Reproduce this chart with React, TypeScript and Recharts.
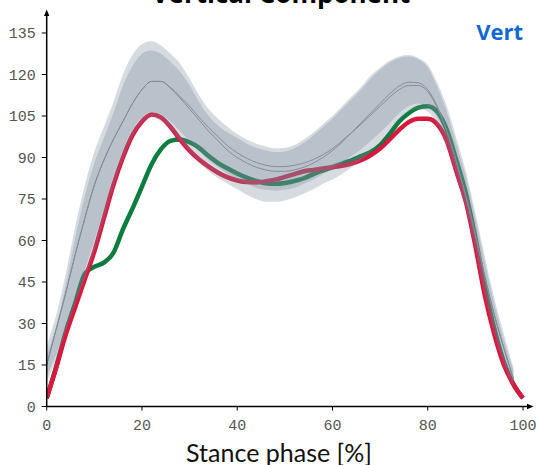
import React from "react";
import {
  ComposedChart,
  Area,
  Line,
  XAxis,
  YAxis,
} from "recharts";

// stance phase [%], sampled every 2 %
const stance = [
  0, 2, 4, 6, 8, 10, 12, 14, 16, 18, 20, 22, 24, 26, 28, 30, 32, 34, 36, 38, 40,
  42, 44, 46, 48, 50, 52, 54, 56, 58, 60, 62, 64, 66, 68, 70, 72, 74, 76, 78, 80,
  82, 84, 86, 88, 90, 92, 94, 96, 98, 100,
];

const redForce = [
  3, 14, 26, 36, 46, 56, 68, 80, 90, 98, 103, 105.5, 104.5, 101, 96.5, 92.5,
  89.3, 86.7, 84.5, 82.8, 81.7, 81.1, 81, 81.4, 82, 83, 84, 85, 85.5, 86, 86.5,
  87, 87.8, 89, 90.8, 93.2, 96.5, 100, 102.8, 104, 104, 102, 96, 85, 74, 58, 40,
  26, 15, 8, 3,
];

const greenForce = [
  3, 14.5, 27, 37.5, 48, 50.5, 52, 55.5, 64, 71.5, 79.5, 87.5, 93, 96, 96.5,
  95.5, 93.5, 90.5, 88, 86, 84.2, 82.7, 81.5, 80.7, 80.5, 80.8, 81.5, 82.5, 84,
  85.3, 86.5, 87.8, 89, 90.5, 92, 94.5, 98.5, 103, 106, 108, 108.5, 106.5, 100,
  89, 77, 61, 43, 28, 16, 8, 3,
];

// reference corridor, 0..98 %
const outerHi = [
  22, 33, 48, 65, 80, 92, 101, 110, 120, 127, 131, 132, 130.5, 127.5, 124,
  118.5, 112.5, 107.5, 104, 101, 98.5, 96.5, 95, 94, 93.3, 93.5, 94.5, 96.5, 99,
  102, 105, 108.5, 112, 115.5, 119.5, 122.5, 125, 126.5, 127, 126, 123.5, 117,
  108.5, 97, 85, 70, 54, 39, 26, 14,
];
const innerHi = [
  19, 29, 44, 61, 76, 88, 97, 106, 116, 123, 127.5, 128.7, 127.5, 124.5, 121,
  116, 110, 105, 101.5, 99, 97, 95, 93.5, 92.5, 92, 92.2, 93.3, 95.3, 98, 101,
  104, 107.5, 111, 114.5, 118.5, 121.7, 124.3, 126, 126.5, 125.5, 122.5, 115.5,
  106.5, 95, 83, 68, 52, 37, 24, 13,
];
const innerLo = [
  11, 19, 29.5, 40, 49.5, 60, 71, 83, 92.5, 100, 104.5, 106.5, 105.5, 103, 99.5,
  96, 92.5, 89, 86.5, 84, 82, 80.5, 79, 78.3, 78, 78.3, 79, 80.5, 82, 84, 86, 88,
  90.5, 93, 96, 99, 102.5, 106, 108.5, 109.5, 108.5, 104.5, 97, 86, 74, 59, 43,
  29, 17.5, 9,
];
const outerLo = [
  9, 17, 27, 37, 46, 56, 67, 79, 89, 97, 102.5, 104.5, 103, 100, 96, 92, 88.5,
  85, 82.5, 80.5, 78.5, 76.5, 75, 74, 74, 74.5, 75.5, 77, 78.5, 80.5, 82, 84,
  86.5, 89, 92, 95.5, 99.5, 103.5, 106.5, 107.5, 106.5, 102, 94, 83, 71, 56, 40,
  26, 15, 7,
];
const meanA = [
  15, 28, 41, 55, 68, 80, 89, 96.5, 103, 109.5, 114.5, 117.5, 117.5, 115, 111.5,
  107.5, 103.5, 99.5, 96, 92.5, 90, 88, 86.5, 85.5, 85, 85, 85.5, 86.5, 88, 90,
  92.5, 95.5, 99, 102.5, 106, 109.5, 113, 115.8, 117.2, 117, 114.5, 108.5, 99.5,
  88.5, 76, 62, 47, 33, 21, 10,
];
const meanB = [
  15, 28, 41, 55, 68, 80, 89, 96.5, 103, 109.5, 114.5, 117.5, 117.5, 115.3, 112,
  108.5, 104.5, 100.8, 97.5, 94.2, 91.7, 89.7, 88.2, 87.2, 86.7, 86.7, 87.2, 88,
  89.3, 91, 93.2, 96, 99, 102, 105.3, 108.5, 111.8, 114.5, 116, 116, 113.8, 108,
  99.5, 88.5, 76, 62, 47, 33, 21, 10,
];

const yTicks = [0, 15, 30, 45, 60, 75, 90, 105, 120, 135];
const xTicks = [0, 20, 40, 60, 80, 100];

const subjectRows = stance.map((x, i) => ({
  x,
  red: redForce[i],
  green: greenForce[i],
}));

const corridorRows = outerHi.map((_, i) => ({
  x: stance[i],
  outer: [outerLo[i], outerHi[i]],
  inner: [innerLo[i], innerHi[i]],
  meanA: meanA[i],
  meanB: meanB[i],
}));

const tickStyle = { fontFamily: "'Liberation Mono', monospace", fontSize: 15, fill: "#555" };
const bandColor = "#788798";

export default function App() {
  return (
    <div style={{ position: "absolute", left: 0, top: 0, width: 539, height: 465 }}>
      <ComposedChart
        width={539}
        height={465}
        data={subjectRows}
        margin={{ top: 15, right: 11, left: 0, bottom: 0 }}
      >
        <defs>
          <marker
            id="axisArrow"
            viewBox="0 0 10 10"
            refX="2"
            refY="5"
            markerWidth="7"
            markerHeight="7"
            markerUnits="userSpaceOnUse"
            orient="auto-start-reverse"
          >
            <path d="M0,1 L10,5 L0,9 z" fill="#000" />
          </marker>
        </defs>
        <XAxis
          dataKey="x"
          type="number"
          domain={[0, 101.05]}
          ticks={xTicks}
          allowDataOverflow
          height={58.5}
          tickSize={4}
          tickMargin={9}
          tick={tickStyle}
          tickLine={{ stroke: "#000" }}
          axisLine={{ stroke: "#000", strokeWidth: 1.5, markerEnd: "url(#axisArrow)" }}
        />
        <YAxis
          type="number"
          domain={[0, 141.5]}
          ticks={yTicks}
          allowDataOverflow
          width={46.7}
          tickSize={5}
          tickMargin={6}
          tick={tickStyle}
          tickLine={{ stroke: "#000" }}
          axisLine={{ stroke: "#000", strokeWidth: 1.5, markerStart: "url(#axisArrow)" }}
        />
        {/* subject curves as stroke-only areas so the corridor shades over them */}
        <Area
          dataKey="green"
          type="monotone"
          stroke="#0b7d3e"
          strokeWidth={4.5}
          fill="none"
          activeDot={false}
          isAnimationActive={false}
        />
        <Area
          dataKey="red"
          type="monotone"
          stroke="#d9173f"
          strokeWidth={4.5}
          fill="none"
          activeDot={false}
          isAnimationActive={false}
        />
        <Area
          data={corridorRows}
          dataKey="outer"
          type="monotone"
          stroke="none"
          fill={bandColor}
          fillOpacity={0.3}
          activeDot={false}
          isAnimationActive={false}
        />
        <Area
          data={corridorRows}
          dataKey="inner"
          type="monotone"
          stroke="none"
          fill={bandColor}
          fillOpacity={0.3}
          activeDot={false}
          isAnimationActive={false}
        />
        <Line
          data={corridorRows}
          dataKey="meanA"
          type="monotone"
          stroke="#838d9a"
          strokeWidth={1}
          dot={false}
          isAnimationActive={false}
        />
        <Line
          data={corridorRows}
          dataKey="meanB"
          type="monotone"
          stroke="#838d9a"
          strokeWidth={1}
          dot={false}
          isAnimationActive={false}
        />
        <text
          x={281}
          y={3}
          textAnchor="middle"
          style={{ fontFamily: "'Open Sans', sans-serif", fontWeight: "bold", fontSize: 26, fill: "#000" }}
        >
          Vertical Component
        </text>
        <text
          x={523}
          y={40}
          textAnchor="end"
          style={{ fontFamily: "'Open Sans', sans-serif", fontWeight: "bold", fontSize: 22, fill: "#1268d2" }}
        >
          Vert
        </text>
        <text
          x={279}
          y={462}
          textAnchor="middle"
          style={{ fontFamily: "Lato, sans-serif", fontSize: 25, fill: "#111" }}
        >
          Stance phase [%]
        </text>
      </ComposedChart>
    </div>
  );
}
